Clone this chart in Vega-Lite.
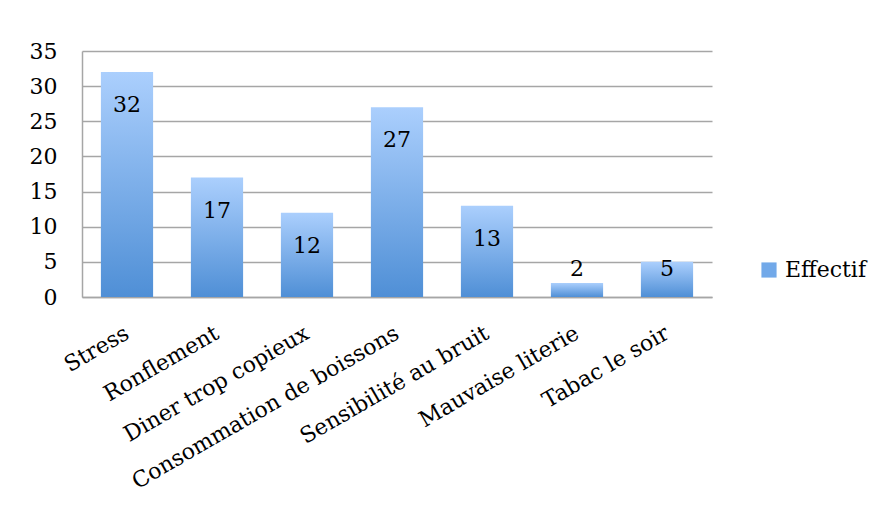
{
  "$schema": "https://vega.github.io/schema/vega-lite/v6.json",
  "width": 630,
  "height": 246,
  "autosize": {"type": "none"},
  "padding": {"left": 82, "top": 51, "right": 171, "bottom": 215},
  "background": "white",
  "config": {
    "view": {"stroke": null},
    "font": "DejaVu Serif",
    "axis": {"labelFont": "DejaVu Serif", "labelColor": "black"},
    "legend": {"labelFont": "DejaVu Serif"}
  },
  "data": {
    "values": [
      {"cause": "Stress", "effectif": 32, "serie": "Effectif"},
      {"cause": "Ronflement", "effectif": 17, "serie": "Effectif"},
      {"cause": "Diner trop copieux", "effectif": 12, "serie": "Effectif"},
      {"cause": "Consommation de boissons", "effectif": 27, "serie": "Effectif"},
      {"cause": "Sensibilité au bruit", "effectif": 13, "serie": "Effectif"},
      {"cause": "Mauvaise literie", "effectif": 2, "serie": "Effectif"},
      {"cause": "Tabac le soir", "effectif": 5, "serie": "Effectif"}
    ]
  },
  "encoding": {
    "x": {
      "field": "cause",
      "type": "nominal",
      "sort": null,
      "title": null,
      "scale": {"paddingInner": 0.42, "paddingOuter": 0.21},
      "axis": {
        "labelAngle": -30,
        "labelAlign": "right",
        "labelBaseline": "middle",
        "labelPadding": 34,
        "labelFontSize": 22,
        "labelLimit": 400,
        "labelOverlap": false,
        "ticks": false,
        "domainColor": "#a6a6a6",
        "domainWidth": 1.5
      }
    },
    "y": {
      "field": "effectif",
      "type": "quantitative",
      "title": null,
      "scale": {"domain": [0, 35], "nice": false},
      "axis": {
        "values": [0, 5, 10, 15, 20, 25, 30, 35],
        "labelFontSize": 22,
        "labelPadding": 25,
        "labelOverlap": false,
        "labelFlush": false,
        "ticks": false,
        "grid": true,
        "gridColor": "#a6a6a6",
        "gridWidth": 1.5,
        "domainColor": "#a6a6a6",
        "domainWidth": 1.5
      }
    }
  },
  "layer": [
    {
      "mark": {
        "type": "bar",
        "color": {
          "gradient": "linear",
          "x1": 0, "y1": 0, "x2": 0, "y2": 1,
          "stops": [
            {"offset": 0, "color": "#abcffd"},
            {"offset": 1, "color": "#4f8fd6"}
          ]
        }
      }
    },
    {
      "mark": {"type": "square", "opacity": 0},
      "encoding": {
        "color": {
          "field": "serie",
          "type": "nominal",
          "scale": {"range": ["#72a9e9"]},
          "legend": {
            "title": null,
            "orient": "none",
            "legendX": 676,
            "legendY": 208,
            "symbolType": "square",
            "symbolSize": 230,
            "symbolOpacity": 1,
            "symbolStrokeWidth": 0,
            "labelFontSize": 22,
            "labelColor": "black",
            "labelOffset": 5,
            "padding": 0
          }
        }
      }
    },
    {
      "transform": [{"filter": "datum.effectif >= 10"}],
      "mark": {"type": "text", "baseline": "middle", "dy": 33, "fontSize": 22, "color": "black"},
      "encoding": {
        "text": {"field": "effectif", "type": "quantitative"}
      }
    },
    {
      "transform": [{"filter": "datum.effectif < 10"}],
      "mark": {"type": "text", "baseline": "middle", "fontSize": 22, "color": "black"},
      "encoding": {
        "y": {"datum": 4},
        "text": {"field": "effectif", "type": "quantitative"}
      }
    }
  ]
}
